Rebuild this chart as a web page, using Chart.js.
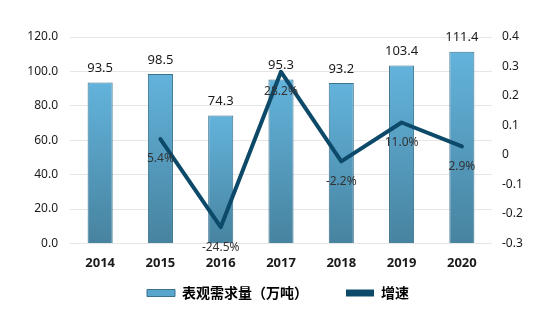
<!DOCTYPE html>
<html>
<head>
<meta charset="utf-8">
<script src="https://cdn.jsdelivr.net/npm/chart.js@4.4.0/dist/chart.umd.min.js"></script>
<style>
  html, body { margin: 0; padding: 0; background: #fff; }
  #wrap { width: 556px; height: 323px; position: relative; }
</style>
</head>
<body>
<div id="wrap"><canvas id="chart"></canvas></div>
<script>
const years = ['2014', '2015', '2016', '2017', '2018', '2019', '2020'];
const demand = [93.5, 98.5, 74.3, 95.3, 93.2, 103.4, 111.4];
const growth = [null, 0.054, -0.245, 0.282, -0.022, 0.110, 0.029];
const growthLabels = [null, '5.4%', '-24.5%', '28.2%', '-2.2%', '11.0%', '2.9%'];

const FONT = '"Noto Sans", "Noto Sans CJK SC", sans-serif';
const CJK = '"Noto Sans CJK SC", "Noto Sans", sans-serif';

// value labels above bars and under line points
const valueLabels = {
  id: 'valueLabels',
  afterDatasetsDraw(chart) {
    const ctx = chart.ctx;
    ctx.save();
    ctx.textAlign = 'center';
    ctx.textBaseline = 'middle';

    ctx.font = '13px ' + FONT;
    ctx.fillStyle = '#1a1a1a';
    chart.getDatasetMeta(0).data.forEach((bar, i) => {
      ctx.fillText(demand[i].toFixed(1), bar.x, bar.y - 14);
    });

    ctx.font = '12px ' + FONT;
    ctx.fillStyle = '#333';
    chart.getDatasetMeta(1).data.forEach((pt, i) => {
      if (growthLabels[i] == null) return;
      ctx.fillText(growthLabels[i], pt.x, pt.y + 20);
    });
    ctx.restore();
  }
};

function barGradient(context) {
  const chart = context.chart;
  if (!chart.chartArea || context.parsed == null) return '#5aa8cf';
  const y = chart.scales.y;
  const top = y.getPixelForValue(context.parsed.y);
  const base = y.getPixelForValue(0);
  const g = chart.ctx.createLinearGradient(0, top, 0, base);
  g.addColorStop(0, '#63b3dc');
  g.addColorStop(1, '#47839f');
  return g;
}

new Chart(document.getElementById('chart'), {
  data: {
    labels: years,
    datasets: [
      {
        type: 'bar',
        label: '表观需求量（万吨）',
        data: demand,
        yAxisID: 'y',
        backgroundColor: barGradient,
        borderColor: '#3a718c',
        borderWidth: 1,
        barPercentage: 0.52,
        categoryPercentage: 0.8,
        order: 2
      },
      {
        type: 'line',
        label: '增速',
        data: growth,
        yAxisID: 'y1',
        borderColor: '#0d4a6a',
        backgroundColor: '#0d4a6a',
        borderWidth: 4,
        borderCapStyle: 'round',
        borderJoinStyle: 'round',
        pointRadius: 0,
        tension: 0,
        order: 1
      }
    ]
  },
  options: {
    responsive: true,
    maintainAspectRatio: false,
    animation: false,
    layout: { padding: { top: 37, left: 0, right: 0, bottom: 13 } },
    scales: {
      x: {
        grid: { display: false, drawTicks: false },
        border: { display: false },
        ticks: { color: '#1a1a1a', padding: 12, font: { family: FONT, size: 13, weight: 'bold' } }
      },
      y: {
        position: 'left',
        min: 0,
        max: 120,
        ticks: {
          stepSize: 20,
          padding: 12,
          color: '#1a1a1a',
          font: { family: FONT, size: 12 },
          callback: v => v.toFixed(1)
        },
        grid: { color: '#e6e6e6', drawTicks: false },
        border: { display: false },
        afterFit(scale) { scale.width = 70; }
      },
      y1: {
        position: 'right',
        min: -0.3,
        max: 0.4,
        ticks: {
          stepSize: 0.1,
          padding: 10,
          color: '#1a1a1a',
          font: { family: FONT, size: 12 },
          callback: v => Math.abs(v) < 1e-9 ? '0' : v.toFixed(1)
        },
        grid: { display: false, drawTicks: false },
        border: { display: false },
        afterFit(scale) { scale.width = 64; }
      }
    },
    plugins: {
      legend: {
        position: 'bottom',
        labels: {
          boxWidth: 28,
          boxHeight: 7,
          padding: 3,
          color: '#1a1a1a',
          font: { family: CJK, size: 14, weight: 'bold' },
          generateLabels(chart) {
            return [
              { text: '表观需求量（万吨）\u3000\u3000\u3000', fillStyle: '#58a6cc', strokeStyle: '#3a718c', lineWidth: 1, datasetIndex: 0 },
              { text: '增速', fillStyle: '#0d4a6a', strokeStyle: '#0d4a6a', lineWidth: 0, datasetIndex: 1 }
            ];
          }
        }
      },
      tooltip: { enabled: false }
    }
  },
  plugins: [valueLabels]
});
</script>
</body>
</html>
